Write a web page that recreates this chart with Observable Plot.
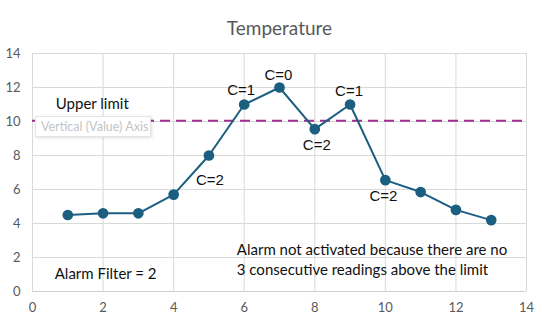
<!DOCTYPE html>
<html>
<head>
<meta charset="utf-8">
<script src="https://cdn.jsdelivr.net/npm/d3@7"></script>
<script src="https://cdn.jsdelivr.net/npm/@observablehq/plot@0.6"></script>
<style>
  html, body { margin: 0; padding: 0; background: #fff; }
  #wrap { position: relative; width: 546px; height: 323px; }
  #tip { position: absolute; left: 35px; top: 116px; height: 21px; width: 116px;
         border: 1px solid #e4e4e4; background: #fff; box-shadow: 1px 1px 3px rgba(0,0,0,0.12);
         font: 12.5px Lato, sans-serif; color: #c4c4c4; line-height: 19px; padding-left: 5px;
         box-sizing: border-box; white-space: nowrap; }
</style>
</head>
<body>
<div id="wrap"></div>
<script>
const readings = [1, 2, 3, 4, 5, 6, 7, 8, 9, 10, 11, 12, 13];
const temperature = [4.5, 4.6, 4.6, 5.7, 8.0, 11.0, 12.0, 9.55, 11.0, 6.55, 5.85, 4.8, 4.2];
const counterLabels = ["", "", "", "", "C=2", "C=1", "C=0", "C=2", "C=1", "C=2", "", "", ""];
const upperLimit = 10.05;
const xTicks = [0, 2, 4, 6, 8, 10, 12, 14];
const yTicks = [0, 2, 4, 6, 8, 10, 12, 14];
const titleText = "Temperature";
const notes = [
  {x: 0.66, y: 11.1, text: "Upper limit"},
  {x: 0.63, y: 1.13, text: "Alarm Filter = 2"},
  {x: 5.79, y: 1.94, text: "Alarm not activated because there are no\n3 consecutive readings above the limit"}
];
const tipText = "Vertical (Value) Axis";

const pts = readings.map((r, i) => ({x: r, y: temperature[i], label: counterLabels[i]}));
// label offsets (pixels) for above/below placement
const labelDy = {4: 25, 5: -14, 6: -12, 7: 16, 8: -13, 9: 16};
const labelDx = {4: 1, 5: -3, 6: -1, 7: 2, 8: -1, 9: -2};
const labelled = pts.map((d, i) => ({...d, i})).filter(d => d.label);

const lineColor = "#1b5e80";
const gridColor = "#d9d9d9";

const chart = Plot.plot({
  width: 546,
  height: 323,
  marginLeft: 32,
  marginRight: 20,
  marginTop: 53,
  marginBottom: 32,
  style: {fontFamily: "Lato, sans-serif", background: "#fff", overflow: "visible"},
  x: {domain: [0, 14]},
  y: {domain: [0, 14]},
  marks: [
    Plot.gridX(xTicks, {stroke: gridColor, strokeOpacity: 1}),
    Plot.gridY(yTicks, {stroke: gridColor, strokeOpacity: 1}),
    Plot.ruleY([0], {stroke: "#cfcfcf"}),
    Plot.axisX(xTicks, {tickSize: 0, tickPadding: 11, fontSize: 13, fill: "#595959", label: null, tickFormat: d => String(d)}),
    Plot.axisY(yTicks, {tickSize: 0, tickPadding: 12, fontSize: 13, fill: "#595959", label: null, tickFormat: d => String(d)}),
    Plot.ruleY([upperLimit], {stroke: "#a02e90", strokeWidth: 2, strokeDasharray: "10,6"}),
    Plot.line(pts, {x: "x", y: "y", stroke: lineColor, strokeWidth: 2}),
    Plot.dot(pts, {x: "x", y: "y", r: 4.6, fill: lineColor, stroke: lineColor}),
    ...labelled.map(d => Plot.text([d], {x: "x", y: "y", text: "label", dy: labelDy[d.i], dx: labelDx[d.i],
      fontSize: 15, fontFamily: "Liberation Sans, Arial, sans-serif", fill: "#111"})),
    Plot.text(notes, {x: "x", y: "y", text: "text", textAnchor: "start", fontSize: 15, fill: "#111", lineHeight: 1.33}),
    Plot.text([titleText], {frameAnchor: "top", dy: -32, fontSize: 19, fill: "#595959"})
  ]
});
const wrap = document.getElementById("wrap");
wrap.appendChild(chart);
const tip = document.createElement("div");
tip.id = "tip";
tip.textContent = tipText;
wrap.appendChild(tip);
</script>
</body>
</html>
